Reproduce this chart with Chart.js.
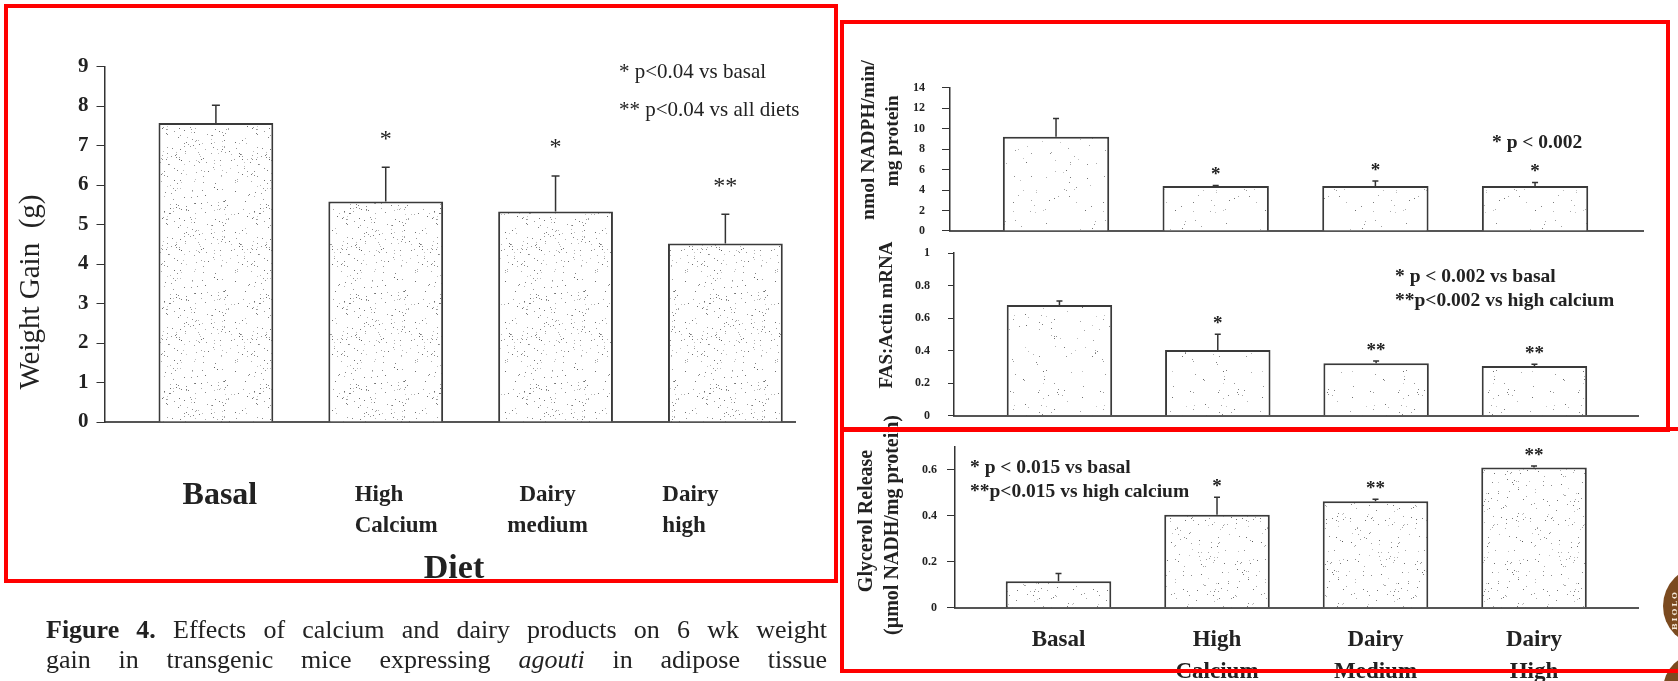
<!DOCTYPE html>
<html>
<head>
<meta charset="utf-8">
<script src="https://cdn.jsdelivr.net/npm/chart.js@4.4.1/dist/chart.umd.min.js"></script>
<style>
  html, body { margin: 0; padding: 0; background: #fff; }
  body { position: relative; width: 1678px; height: 681px; overflow: hidden; }
  canvas { position: absolute; left: 0; top: 0; }
  .box { position: absolute; border: 4.5px solid #ff0000; box-sizing: border-box; z-index: 5; }
  .caption { position: absolute; left: 46px; width: 781px; color: #222;
    font: 26px/30px "Liberation Serif", "Times New Roman", serif;
    text-align: justify; text-align-last: justify; white-space: nowrap; }
  .seal { position: absolute; border-radius: 50%; background: #7b4a1f; }
  .seal span { position: absolute; color: #f3e6d6; font: bold 8px "DejaVu Serif", serif;
    letter-spacing: 2px; transform: rotate(-90deg); transform-origin: 0 0; }
</style>
</head>
<body>
<canvas id="weightChart" width="1678" height="681"></canvas>
<canvas id="fasActivityChart" width="1678" height="681"></canvas>
<canvas id="fasMrnaChart" width="1678" height="681"></canvas>
<canvas id="glycerolChart" width="1678" height="681"></canvas>

<div class="box" style="left:4px;top:4px;width:834px;height:579px"></div>
<div class="box" style="left:840px;top:20px;width:830px;height:412px"></div>
<div class="box" style="left:840px;top:427px;width:860px;height:246px"></div>

<div class="caption" style="top:615px"><b>Figure 4.</b> Effects of calcium and dairy products on 6 wk weight</div>
<div class="caption" style="top:645px">gain in transgenic mice expressing <i>agouti</i> in adipose tissue</div>

<div class="seal" style="left:1663px;top:566px;width:80px;height:80px"><span style="left:6px;top:64px">BIOLO</span></div>
<div class="seal" style="left:1663px;top:653px;width:74px;height:74px"></div>

<script>
// weight gain after 6 wk, by diet
const dietLabels = ['Basal', ['High', 'Calcium'], ['Dairy', 'medium'], ['Dairy', 'high']];
const weightGain = [7.57, 5.58, 5.33, 4.52];
const weightGainErr = [0.45, 0.87, 0.9, 0.74];
const weightGainMarks = ['', '*', '*', '**'];
const weightTicks = [0, 1, 2, 3, 4, 5, 6, 7, 8, 9];

// FAS activity, nmol NADPH/min/mg protein
const fasActivity = [9.2, 4.4, 4.4, 4.4];
const fasActivityErr = [1.8, 0.05, 0.48, 0.35];
const fasActivityMarks = ['', '*', '*', '*'];
const fasActivityTicks = [0, 2, 4, 6, 8, 10, 12, 14];

// FAS:actin mRNA ratio
const fasMrna = [0.68, 0.404, 0.322, 0.305];
const fasMrnaErr = [0.025, 0.096, 0.014, 0.011];
const fasMrnaMarks = ['', '*', '**', '**'];
const fasMrnaTicks = [0, 0.2, 0.4, 0.6, 0.8, 1];

// glycerol release, umol NADH/mg protein
const glycerolLabels = ['Basal', ['High', 'Calcium'], ['Dairy', 'Medium'], ['Dairy', 'High']];
const glycerol = [0.115, 0.404, 0.463, 0.61];
const glycerolErr = [0.034, 0.076, 0.009, 0.006];
const glycerolMarks = ['', '*', '**', '**'];
const glycerolTicks = [0, 0.2, 0.4, 0.6];

const W = 1678, H = 681;
const SERIF = '"Liberation Serif", "Times New Roman", serif';
const INK = '#222';

Chart.defaults.font.family = SERIF;
Chart.defaults.color = INK;

// speckled fill like the printed bars
function stipple(count, seed) {
  const tile = document.createElement('canvas');
  tile.width = tile.height = 90;
  const g = tile.getContext('2d');
  g.fillStyle = '#fff';
  g.fillRect(0, 0, 90, 90);
  let s = seed;
  const next = () => (s = (s * 16807) % 2147483647) / 2147483647;
  for (let i = 0; i < count; i++) {
    g.fillStyle = 'rgba(70,70,70,' + (0.3 + 0.5 * next()).toFixed(2) + ')';
    g.fillRect(Math.floor(next() * 90), Math.floor(next() * 90), 1, 1);
  }
  return g.createPattern(tile, 'repeat');
}

function errorBars(values, errors, marks, style) {
  return {
    id: 'errorBars',
    afterDatasetsDraw(chart) {
      const { ctx, scales: { y } } = chart;
      const bars = chart.getDatasetMeta(0).data;
      ctx.save();
      ctx.strokeStyle = '#333';
      ctx.lineWidth = 1.5;
      ctx.fillStyle = INK;
      ctx.font = style.font;
      ctx.textAlign = 'center';
      ctx.textBaseline = 'middle';
      bars.forEach((bar, i) => {
        const top = y.getPixelForValue(values[i] + errors[i]);
        ctx.beginPath();
        ctx.moveTo(bar.x, y.getPixelForValue(values[i]));
        ctx.lineTo(bar.x, top);
        ctx.moveTo(bar.x - style.cap, top);
        ctx.lineTo(bar.x + style.cap, top);
        ctx.stroke();
        if (marks[i]) ctx.fillText(marks[i], bar.x, top - style.gap);
      });
      ctx.restore();
    },
  };
}

// diet names under the bars; some are set flush-left rather than centred
function categoryLabels(labels, style) {
  return {
    id: 'categoryLabels',
    afterDraw(chart) {
      const { ctx, scales: { x } } = chart;
      ctx.save();
      ctx.fillStyle = INK;
      ctx.textBaseline = 'middle';
      labels.forEach((label, i) => {
        const px = x.getPixelForValue(i) + style.nudge[i];
        ctx.font = style.font(i);
        ctx.textAlign = style.align[i];
        [].concat(label).forEach((line, k) => {
          ctx.fillText(line, px, style.top(i) + k * style.lineHeight);
        });
      });
      ctx.restore();
    },
  };
}

function notes(items) {
  return {
    id: 'notes',
    afterDraw(chart) {
      const { ctx } = chart;
      items.forEach((n) => {
        ctx.save();
        ctx.translate(n.x, n.y);
        if (n.rotate) ctx.rotate((n.rotate * Math.PI) / 180);
        ctx.font = n.font;
        ctx.fillStyle = INK;
        ctx.textAlign = n.align || 'left';
        ctx.textBaseline = n.baseline || 'middle';
        ctx.fillText(n.text, 0, 0);
        ctx.restore();
      });
    },
  };
}

function barChart(id, c) {
  const yWidth = 60;
  const xHeight = H - c.area.bottom;
  const extra = c.extraPlugins || [];
  return new Chart(document.getElementById(id), {
    type: 'bar',
    data: {
      datasets: [
        {
          data: c.values.map((v, i) => ({ x: i, y: v })),
          backgroundColor: c.fill,
          borderColor: '#3a3a3a',
          borderWidth: 2,
          barPercentage: c.barPct,
          categoryPercentage: 1,
        },
      ],
    },
    options: {
      responsive: false,
      animation: false,
      events: [],
      layout: {
        padding: { left: c.area.left - yWidth, top: c.area.top, right: W - c.area.right, bottom: 0 },
      },
      plugins: { legend: { display: false }, tooltip: { enabled: false } },
      scales: {
        x: {
          type: 'linear',
          offset: false,
          min: c.xMin,
          max: c.xMax,
          afterBuildTicks: (axis) => { axis.ticks = c.values.map((v, i) => ({ value: i })); },
          afterFit: (axis) => { axis.height = xHeight; },
          grid: { drawOnChartArea: false, drawTicks: false, offset: false },
          border: { color: '#555', width: 2 },
          ticks: {
            display: !!c.labels,
            autoSkip: false,
            maxRotation: 0,
            padding: c.xPad || 0,
            color: INK,
            font: c.xFont,
            callback: (v, i) => (c.labels ? c.labels[i] : ''),
          },
        },
        y: {
          min: 0,
          max: c.yMax,
          afterBuildTicks: (axis) => { axis.ticks = c.ticks.map((v) => ({ value: v })); },
          afterFit: (axis) => { axis.width = yWidth; },
          grid: { drawOnChartArea: false, color: '#333', tickLength: c.tickLen },
          border: { color: '#333', width: 1.5 },
          ticks: { padding: c.yPad, color: INK, font: c.yFont, callback: c.yFormat },
        },
      },
    },
    plugins: [errorBars(c.values, c.errors, c.marks, c.markStyle), notes(c.notes), ...extra],
  });
}

const decimal = (v) => (v === 0 || v === 1 ? String(v) : v.toFixed(1));
const legendFont = 'bold 19.5px ' + SERIF;

barChart('weightChart', {
  values: weightGain,
  errors: weightGainErr,
  marks: weightGainMarks,
  ticks: weightTicks,
  yMax: 9,
  xMin: -0.656,
  xMax: 3.41,
  area: { left: 104.5, top: 66.5, right: 795, bottom: 422 },
  barPct: 0.676,
  fill: stipple(230, 11),
  tickLen: 8,
  yPad: 8,
  yFont: { family: SERIF, size: 21, weight: 'bold' },
  yFormat: (v) => String(v),
  markStyle: { font: '24px ' + SERIF, gap: 28, cap: 4 },
  extraPlugins: [
    categoryLabels(dietLabels, {
      font: (i) => 'bold ' + (i === 0 ? 32 : 23) + 'px ' + SERIF,
      top: (i) => (i === 0 ? 496 : 495),
      lineHeight: 31,
      align: ['center', 'left', 'center', 'left'],
      nudge: [4, -31, -8, -63],
    }),
  ],
  notes: [
    { text: 'Weight Gain  (g)', x: 31, y: 292, rotate: -90, align: 'center', font: '29px ' + SERIF },
    { text: 'Diet', x: 454, y: 578, align: 'center', baseline: 'alphabetic', font: 'bold 34px ' + SERIF },
    { text: '* p<0.04 vs basal', x: 619, y: 72, font: '21px ' + SERIF },
    { text: '** p<0.04 vs all diets', x: 619, y: 110, font: '21px ' + SERIF },
  ],
});

barChart('fasActivityChart', {
  values: fasActivity,
  errors: fasActivityErr,
  marks: fasActivityMarks,
  ticks: fasActivityTicks,
  yMax: 14,
  xMin: -0.664,
  xMax: 3.676,
  area: { left: 950, top: 87.7, right: 1643, bottom: 231 },
  barPct: 0.666,
  fill: stipple(60, 29),
  tickLen: 8,
  yPad: 17,
  yFont: { family: SERIF, size: 12, weight: 'bold' },
  yFormat: (v) => String(v),
  markStyle: { font: 'bold 19px ' + SERIF, gap: 10, cap: 3 },
  notes: [
    { text: 'nmol NADPH/min/', x: 869, y: 140, rotate: -90, align: 'center', font: 'bold 19.5px ' + SERIF },
    { text: 'mg protein', x: 893, y: 141, rotate: -90, align: 'center', font: 'bold 19.5px ' + SERIF },
    { text: '* p < 0.002', x: 1492, y: 143, font: legendFont },
  ],
});

barChart('fasMrnaChart', {
  values: fasMrna,
  errors: fasMrnaErr,
  marks: fasMrnaMarks,
  ticks: fasMrnaTicks,
  yMax: 1,
  xMin: -0.666,
  xMax: 3.654,
  area: { left: 954, top: 253, right: 1638, bottom: 415.7 },
  barPct: 0.666,
  fill: stipple(70, 47),
  tickLen: 6,
  yPad: 18,
  yFont: { family: SERIF, size: 12, weight: 'bold' },
  yFormat: decimal,
  markStyle: { font: 'bold 19px ' + SERIF, gap: 10, cap: 3 },
  notes: [
    { text: 'FAS:Actin mRNA', x: 887, y: 315, rotate: -90, align: 'center', font: 'bold 19px ' + SERIF },
    { text: '* p < 0.002 vs basal', x: 1395, y: 277, font: legendFont },
    { text: '**p<0.002 vs high calcium', x: 1395, y: 301, font: legendFont },
  ],
});

barChart('glycerolChart', {
  labels: glycerolLabels,
  values: glycerol,
  errors: glycerolErr,
  marks: glycerolMarks,
  ticks: glycerolTicks,
  yMax: 0.7,
  xMin: -0.653,
  xMax: 3.656,
  area: { left: 955, top: 446.7, right: 1638, bottom: 607.7 },
  barPct: 0.666,
  fill: stipple(150, 83),
  tickLen: 8,
  yPad: 10,
  yFont: { family: SERIF, size: 12, weight: 'bold' },
  yFormat: decimal,
  xPad: 16,
  xFont: { family: SERIF, size: 23, weight: 'bold', lineHeight: '32px' },
  markStyle: { font: 'bold 19px ' + SERIF, gap: 10, cap: 3 },
  notes: [
    { text: 'Glycerol Release', x: 867, y: 521, rotate: -90, align: 'center', font: 'bold 20px ' + SERIF },
    { text: '(\u00b5mol NADH/mg protein)', x: 893, y: 525, rotate: -90, align: 'center', font: 'bold 20px ' + SERIF },
    { text: '* p < 0.015 vs basal', x: 970, y: 468, font: legendFont },
    { text: '**p<0.015 vs high calcium', x: 970, y: 492, font: legendFont },
  ],
});
</script>
</body>
</html>
